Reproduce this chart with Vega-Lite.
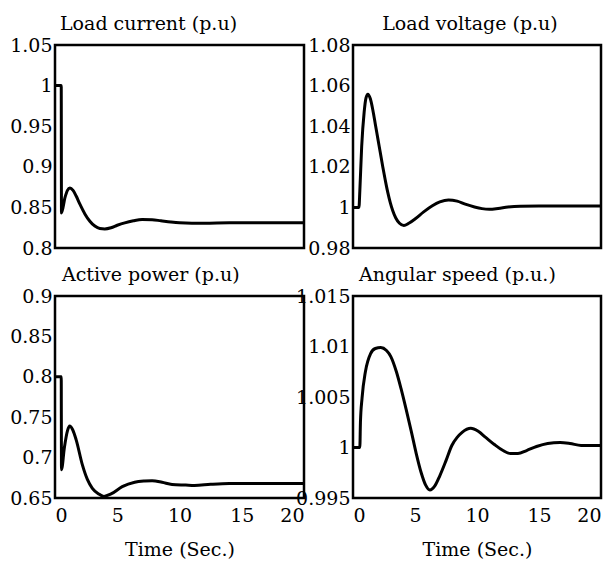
{
  "$schema": "https://vega.github.io/schema/vega-lite/v6.json",
  "background": "white",
  "padding": {"left": 8, "top": 13, "right": 0, "bottom": 0},
  "bounds": "flush",
  "columns": 2,
  "spacing": {"row": 48, "column": 49},
  "config": {
    "font": "DejaVu Serif",
    "view": {"stroke": "black", "strokeWidth": 2.5},
    "axis": {"grid": false, "ticks": false, "domain": false, "labelFont": "DejaVu Serif", "labelFontSize": 19, "labelColor": "black", "labelPadding": 3, "titleFont": "DejaVu Serif", "titleFontSize": 19, "titleFontWeight": "normal", "titleColor": "black", "labelOverlap": false},
    "title": {"font": "DejaVu Serif", "fontSize": 19, "fontWeight": "normal", "color": "black", "offset": 2, "frame": "group"},
    "line": {"color": "black", "strokeWidth": 3}
  },
  "datasets": {
    "current": [
      {"t": 0, "v": 1.0}, {"t": 0.5, "v": 1.0}, {"t": 0.52, "v": 0.843}, {"t": 0.8, "v": 0.862}, {"t": 1.0, "v": 0.871}, {"t": 1.2, "v": 0.874}, {"t": 1.45, "v": 0.871}, {"t": 1.7, "v": 0.864}, {"t": 2.0, "v": 0.854}, {"t": 2.4, "v": 0.842}, {"t": 2.8, "v": 0.833}, {"t": 3.2, "v": 0.827}, {"t": 3.6, "v": 0.824}, {"t": 4.0, "v": 0.8235}, {"t": 4.5, "v": 0.825}, {"t": 5.0, "v": 0.828}, {"t": 5.6, "v": 0.831}, {"t": 6.3, "v": 0.8335}, {"t": 7.0, "v": 0.835}, {"t": 7.8, "v": 0.8348}, {"t": 8.5, "v": 0.8335}, {"t": 9.3, "v": 0.832}, {"t": 10, "v": 0.831}, {"t": 11, "v": 0.8305}, {"t": 12, "v": 0.8305}, {"t": 14, "v": 0.831}, {"t": 16, "v": 0.831}, {"t": 18, "v": 0.831}, {"t": 20, "v": 0.831}
    ],
    "voltage": [
      {"t": 0, "v": 1.0}, {"t": 0.48, "v": 1.0}, {"t": 0.55, "v": 1.008}, {"t": 0.7, "v": 1.03}, {"t": 0.9, "v": 1.047}, {"t": 1.05, "v": 1.054}, {"t": 1.2, "v": 1.0558}, {"t": 1.4, "v": 1.0535}, {"t": 1.6, "v": 1.048}, {"t": 1.8, "v": 1.041}, {"t": 2.0, "v": 1.034}, {"t": 2.2, "v": 1.027}, {"t": 2.4, "v": 1.02}, {"t": 2.6, "v": 1.0135}, {"t": 2.8, "v": 1.0075}, {"t": 3.0, "v": 1.0025}, {"t": 3.2, "v": 0.9985}, {"t": 3.45, "v": 0.9948}, {"t": 3.75, "v": 0.9922}, {"t": 4.1, "v": 0.9911}, {"t": 4.5, "v": 0.9922}, {"t": 5.0, "v": 0.9943}, {"t": 5.7, "v": 0.9978}, {"t": 6.4, "v": 1.0008}, {"t": 7.0, "v": 1.0027}, {"t": 7.7, "v": 1.0037}, {"t": 8.4, "v": 1.0031}, {"t": 9.05, "v": 1.0016}, {"t": 9.8, "v": 1.0002}, {"t": 10.4, "v": 0.9994}, {"t": 11.0, "v": 0.9991}, {"t": 11.7, "v": 0.9995}, {"t": 12.5, "v": 1.0002}, {"t": 13.5, "v": 1.0006}, {"t": 15, "v": 1.0007}, {"t": 17, "v": 1.0007}, {"t": 20, "v": 1.0007}
    ],
    "power": [
      {"t": 0, "v": 0.8}, {"t": 0.5, "v": 0.8}, {"t": 0.52, "v": 0.685}, {"t": 0.75, "v": 0.712}, {"t": 1.0, "v": 0.733}, {"t": 1.18, "v": 0.739}, {"t": 1.4, "v": 0.735}, {"t": 1.7, "v": 0.722}, {"t": 2.2, "v": 0.691}, {"t": 2.6, "v": 0.673}, {"t": 3.0, "v": 0.662}, {"t": 3.5, "v": 0.655}, {"t": 3.93, "v": 0.652}, {"t": 4.5, "v": 0.655}, {"t": 5.4, "v": 0.664}, {"t": 6.4, "v": 0.6695}, {"t": 7.2, "v": 0.671}, {"t": 7.8, "v": 0.6714}, {"t": 8.6, "v": 0.6695}, {"t": 9.4, "v": 0.6668}, {"t": 10.5, "v": 0.666}, {"t": 11.2, "v": 0.6655}, {"t": 12.5, "v": 0.667}, {"t": 14, "v": 0.668}, {"t": 17, "v": 0.668}, {"t": 20, "v": 0.668}
    ],
    "speed": [
      {"t": 0, "v": 1.0}, {"t": 0.55, "v": 1.0}, {"t": 0.6, "v": 1.0025}, {"t": 0.73, "v": 1.0049}, {"t": 1.0, "v": 1.0075}, {"t": 1.42, "v": 1.0093}, {"t": 1.8, "v": 1.0098}, {"t": 2.24, "v": 1.0099}, {"t": 2.7, "v": 1.0096}, {"t": 3.05, "v": 1.009}, {"t": 3.5, "v": 1.0075}, {"t": 3.88, "v": 1.0058}, {"t": 4.3, "v": 1.0037}, {"t": 4.7, "v": 1.0016}, {"t": 5.1, "v": 0.9994}, {"t": 5.5, "v": 0.9975}, {"t": 5.85, "v": 0.9963}, {"t": 6.2, "v": 0.9958}, {"t": 6.6, "v": 0.9962}, {"t": 7.0, "v": 0.9972}, {"t": 7.5, "v": 0.9987}, {"t": 7.97, "v": 1.0002}, {"t": 8.4, "v": 1.001}, {"t": 8.8, "v": 1.0015}, {"t": 9.5, "v": 1.0019}, {"t": 10.1, "v": 1.0016}, {"t": 10.7, "v": 1.001}, {"t": 11.4, "v": 1.0003}, {"t": 12.1, "v": 0.9997}, {"t": 12.7, "v": 0.9994}, {"t": 13.3, "v": 0.9994}, {"t": 14.0, "v": 0.9997}, {"t": 14.8, "v": 1.0001}, {"t": 15.7, "v": 1.0004}, {"t": 16.7, "v": 1.0005}, {"t": 17.5, "v": 1.0004}, {"t": 18.4, "v": 1.0002}, {"t": 20, "v": 1.0002}
    ]
  },
  "concat": [
    {
      "title": {"text": "Load current (p.u)", "anchor": "start", "dx": 5},
      "width": 249, "height": 203,
      "data": {"name": "current"},
      "mark": {"type": "line", "interpolate": "monotone"},
      "encoding": {
        "x": {"field": "t", "type": "quantitative", "scale": {"domain": [0, 20], "nice": false}, "axis": null},
        "y": {"field": "v", "type": "quantitative", "scale": {"domain": [0.8, 1.05], "nice": false, "zero": false}, "axis": {"values": [0.8, 0.85, 0.9, 0.95, 1, 1.05], "format": "~g", "title": null}}
      }
    },
    {
      "title": {"text": "Load voltage (p.u)", "anchor": "middle", "dx": -7},
      "width": 248, "height": 203,
      "data": {"name": "voltage"},
      "mark": {"type": "line", "interpolate": "monotone"},
      "encoding": {
        "x": {"field": "t", "type": "quantitative", "scale": {"domain": [0, 20], "nice": false}, "axis": null},
        "y": {"field": "v", "type": "quantitative", "scale": {"domain": [0.98, 1.08], "nice": false, "zero": false}, "axis": {"values": [0.98, 1, 1.02, 1.04, 1.06, 1.08], "format": "~g", "title": null}}
      }
    },
    {
      "title": {"text": "Active power (p.u)", "anchor": "start", "dx": 7},
      "width": 249, "height": 202,
      "data": {"name": "power"},
      "mark": {"type": "line", "interpolate": "monotone"},
      "encoding": {
        "x": {"field": "t", "type": "quantitative", "scale": {"domain": [0, 20], "nice": false}, "axis": {"values": [0, 5, 10, 15, 20], "title": "Time (Sec.)", "labelPadding": 8, "titlePadding": 15}},
        "y": {"field": "v", "type": "quantitative", "scale": {"domain": [0.65, 0.9], "nice": false, "zero": false}, "axis": {"values": [0.65, 0.7, 0.75, 0.8, 0.85, 0.9], "format": "~g", "title": null}}
      }
    },
    {
      "title": {"text": "Angular speed (p.u.)", "anchor": "start", "dx": 6},
      "width": 248, "height": 202,
      "data": {"name": "speed"},
      "mark": {"type": "line", "interpolate": "monotone"},
      "encoding": {
        "x": {"field": "t", "type": "quantitative", "scale": {"domain": [0, 20], "nice": false}, "axis": {"values": [0, 5, 10, 15, 20], "title": "Time (Sec.)", "labelPadding": 8, "titlePadding": 15}},
        "y": {"field": "v", "type": "quantitative", "scale": {"domain": [0.995, 1.015], "nice": false, "zero": false}, "axis": {"values": [0.995, 1, 1.005, 1.01, 1.015], "format": "~g", "title": null}}
      }
    }
  ]
}
